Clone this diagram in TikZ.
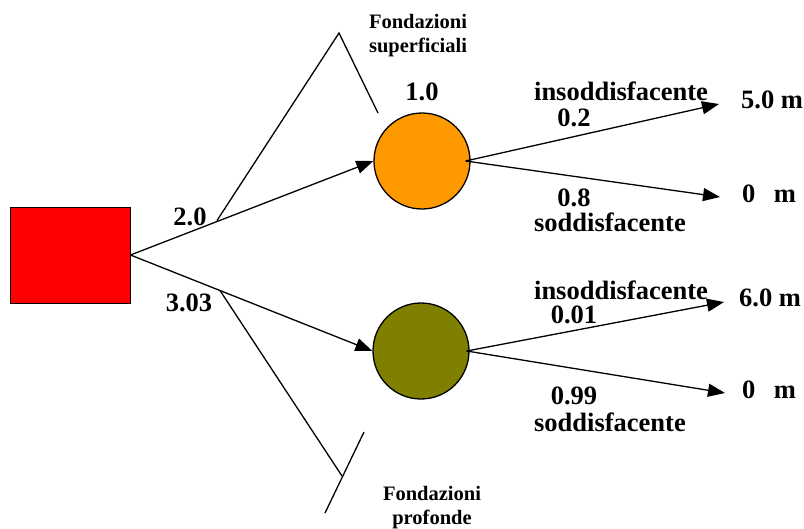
\documentclass[tikz,border=0pt]{standalone}
\usepackage{fontspec}
\setmainfont{Liberation Serif}
\usetikzlibrary{arrows.meta}
\definecolor{orng}{RGB}{255,153,0}
\definecolor{olv}{RGB}{128,128,0}
\begin{document}
\begin{tikzpicture}[x=1pt,y=-1pt,
  lbl/.style={font=\bfseries\fontsize{26.5}{30}\selectfont, inner sep=0pt},
  small/.style={font=\bfseries\fontsize{20.5}{24}\selectfont, inner sep=0pt, align=center},
  conn/.style={line width=1.3pt, -{Triangle[length=17pt,width=13pt]}},
  brk/.style={line width=1.3pt},
  chance/.style={circle, draw, line width=1.3pt, minimum size=96pt, inner sep=0pt}]
\useasboundingbox (0,0) rectangle (804,528);
% decision node
\node[draw, line width=1pt, fill=red, minimum width=120pt, minimum height=96pt, inner sep=0pt] (sq) at (70,255) {};
% chance nodes
\node[chance, fill=orng] (c1) at (422,161) {};
\node[chance, fill=olv] (c2) at (421,351) {};
% end points
\coordinate (e1) at (719,104);
\coordinate (e2) at (720,197);
\coordinate (e3) at (724,302);
\coordinate (e4) at (725,393);
% main arrows
\draw[conn] (sq.east) -- (c1.west);
\draw[conn] (sq.east) -- (c2.west);
\draw[conn] ([xshift=-5pt]c1.east) -- (e1);
\draw[conn] ([xshift=-5pt]c1.east) -- (e2);
\draw[conn] ([xshift=-3pt]c2.east) -- (e3);
\draw[conn] ([xshift=-3pt]c2.east) -- (e4);
% brackets
\draw[brk] (217,220.5) -- (339,33) -- (378,113);
\draw[brk] (220,290.5) -- (342,476);
\draw[brk] (364,432) -- (325,513);
% labels
\node[small] (fs) at (418,36) {Fondazioni\\superficiali};
\node[small] (fp) at (432,508) {Fondazioni\\profonde};
\node[lbl] (l20) at (190,217) {2.0};
\node[lbl] (l303) at (189,303) {3.03};
\node[lbl] (l10) at (422,92) {1.0};
\node[lbl] (i1) at (621,91) {insoddisfacente};
\node[lbl] (p02) at (574,118) {0.2};
\node[lbl] (p08) at (574,198) {0.8};
\node[lbl] (s1) at (610,222) {soddisfacente};
\node[lbl] (i2) at (621,290) {insoddisfacente};
\node[lbl] (p001) at (574,315) {0.01};
\node[lbl] (p099) at (574,396) {0.99};
\node[lbl] (s2) at (610,422) {soddisfacente};
\node[lbl, anchor=west] (t1) at (741,100) {5.0 m};
\node[lbl, anchor=west] (t2) at (742,194) {0\hspace{0.7em}m};
\node[lbl, anchor=west] (t3) at (739,298) {6.0 m};
\node[lbl, anchor=west] (t4) at (742,390) {0\hspace{0.7em}m};
\end{tikzpicture}
\end{document}
